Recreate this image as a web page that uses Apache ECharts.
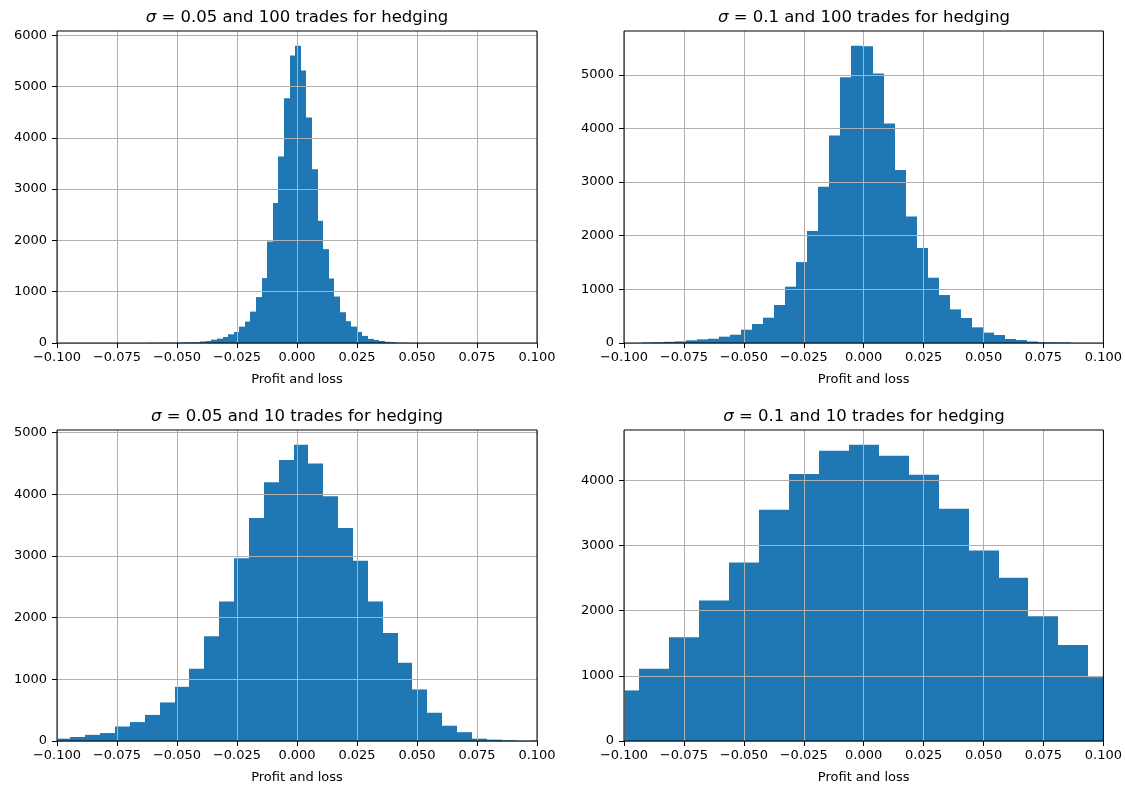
<!DOCTYPE html>
<html>
<head>
<meta charset="utf-8">
<script src="https://cdn.jsdelivr.net/npm/echarts@6/dist/echarts.min.js"></script>
<style>
  html, body { margin: 0; padding: 0; background: #fff; }
  #chart { width: 1125px; height: 785px; }
</style>
</head>
<body>
<div id="chart"></div>
<script>
// Histogram counts of profit and loss for four hedging set-ups.
// Each histogram: first bin's left edge, common bin width, counts per bin.
const binStartS005N100 = -0.06137;
const binWidthS005N100 = 0.002333;
const countsS005N100 = [5, 2, 5, 3, 6, 10, 12, 14, 17, 30, 38, 65, 85, 117, 170, 215, 319, 417, 612, 895,
  1265, 1978, 2727, 3635, 4773, 5603, 5793, 5311, 4395, 3389, 2382, 1830, 1257, 906, 600, 425, 320, 216,
  138, 80, 58, 39, 22, 16, 6, 3, 1];

const binStartS01N100 = -0.09267;
const binWidthS01N100 = 0.004592;
const countsS01N100 = [10, 15, 22, 30, 50, 68, 80, 118, 155, 248, 354, 472, 708, 1050, 1509, 2087, 2913,
  3870, 4957, 5540, 5535, 5025, 4093, 3224, 2360, 1770, 1217, 894, 627, 466, 292, 193, 149, 75, 55, 28, 15, 12, 10];

const binStartS005N10 = -0.10059;
const binWidthS005N10 = 0.006196;
const countsS005N10 = [38, 65, 100, 129, 235, 307, 423, 625, 879, 1170, 1698, 2264, 2965, 3617, 4194, 4555,
  4803, 4501, 3968, 3456, 2922, 2264, 1752, 1267, 836, 458, 248, 143, 38, 22, 11, 5, 8];

const binStartS01N10 = -0.10625;
const binWidthS01N10 = 0.0125;
const countsS01N10 = [776, 1107, 1592, 2158, 2740, 3551, 4097, 4454, 4546, 4378, 4087, 3566, 2923, 2505, 1913, 1474, 980];

// Panel titles: sigma value and number of hedging trades
const sigmaLabels = ['0.05', '0.1', '0.05', '0.1'];
const tradeLabels = ['100', '100', '10', '10'];
const xAxisTitle = 'Profit and loss';

// Axis ticks
const xTicks = [-0.1, -0.075, -0.05, -0.025, 0, 0.025, 0.05, 0.075, 0.1];
const yTicksS005N100 = [0, 1000, 2000, 3000, 4000, 5000, 6000];
const yTicksS01N100 = [0, 1000, 2000, 3000, 4000, 5000];
const yTicksS005N10 = [0, 1000, 2000, 3000, 4000, 5000];
const yTicksS01N10 = [0, 1000, 2000, 3000, 4000];

const X_MIN = xTicks[0];
const X_MAX = xTicks[xTicks.length - 1];
const BAR_COLOR = '#1f77b4';
const FONT = 'DejaVu Sans';

const panels = [
  { start: binStartS005N100, width: binWidthS005N100, counts: countsS005N100, yTicks: yTicksS005N100 },
  { start: binStartS01N100, width: binWidthS01N100, counts: countsS01N100, yTicks: yTicksS01N100 },
  { start: binStartS005N10, width: binWidthS005N10, counts: countsS005N10, yTicks: yTicksS005N10 },
  { start: binStartS01N10, width: binWidthS01N10, counts: countsS01N10, yTicks: yTicksS01N10 }
];

// Grid rectangles (px) for the 2x2 layout
const gridBoxes = [
  { left: 57, top: 31, width: 480, height: 312 },
  { left: 624, top: 31, width: 480, height: 312 },
  { left: 57, top: 430, width: 480, height: 312 },
  { left: 624, top: 430, width: 480, height: 312 }
];

function binData(p) {
  return p.counts.map((c, i) => [p.start + i * p.width, p.start + (i + 1) * p.width, c]);
}

function renderBin(params, api) {
  const x0 = Math.max(api.value(0), X_MIN);
  const x1 = Math.min(api.value(1), X_MAX);
  if (x1 <= x0) return;
  const top = api.coord([x0, api.value(2)]);
  const base = api.coord([x1, 0]);
  const left = Math.round(top[0]);
  const right = Math.round(base[0]);
  return {
    type: 'rect',
    shape: { x: left, y: top[1], width: right - left, height: base[1] - top[1] },
    style: { fill: BAR_COLOR }
  };
}

const fmtX = v => (v < -1e-9 ? '\u2212' : '') + Math.abs(v).toFixed(3);
const fmtY = v => String(Math.round(v));

const option = {
  backgroundColor: '#ffffff',
  animation: false,
  title: gridBoxes.map((g, i) => ({
    text: '{s|\u03c3} = ' + sigmaLabels[i] + ' and ' + tradeLabels[i] + ' trades for hedging',
    left: g.left + g.width / 2,
    top: g.top - 22,
    textAlign: 'center',
    padding: 0,
    textStyle: {
      fontFamily: FONT, fontSize: 16.5, fontWeight: 'normal', color: '#000',
      rich: { s: { fontFamily: FONT, fontSize: 16.5, fontStyle: 'italic', color: '#000' } }
    }
  })),
  grid: gridBoxes.map(g => ({
    left: g.left, top: g.top, width: g.width, height: g.height,
    show: true, z: 10, backgroundColor: 'transparent',
    borderColor: '#000', borderWidth: 1
  })),
  xAxis: gridBoxes.map((g, i) => ({
    type: 'value', gridIndex: i, z: 3,
    min: X_MIN, max: X_MAX, interval: 0.025,
    name: xAxisTitle, nameLocation: 'middle', nameGap: 30,
    nameTextStyle: { fontFamily: FONT, fontSize: 13, color: '#000' },
    axisLine: { show: false, onZero: false },
    axisTick: { show: true, length: 5, lineStyle: { color: '#000', width: 1 } },
    axisLabel: { fontFamily: FONT, fontSize: 13, color: '#000', margin: 8, formatter: fmtX },
    splitLine: { show: true, lineStyle: { color: '#b0b0b0', width: 1 } }
  })),
  yAxis: panels.map((p, i) => ({
    type: 'value', gridIndex: i, z: 3,
    min: 0, max: v => v.max * 1.05, interval: 1000,
    axisLine: { show: false, onZero: false },
    axisTick: { show: true, length: 5, lineStyle: { color: '#000', width: 1 }, customValues: p.yTicks },
    axisLabel: { fontFamily: FONT, fontSize: 13, color: '#000', margin: 10, customValues: p.yTicks, formatter: fmtY },
    splitLine: { show: true, lineStyle: { color: '#b0b0b0', width: 1 } }
  })),
  series: panels.map((p, i) => ({
    type: 'custom', xAxisIndex: i, yAxisIndex: i, z: 2,
    renderItem: renderBin,
    encode: { x: [0, 1], y: 2 },
    data: binData(p)
  }))
};

const chart = echarts.init(document.getElementById('chart'), null, { renderer: 'canvas' });
chart.setOption(option);
</script>
</body>
</html>
